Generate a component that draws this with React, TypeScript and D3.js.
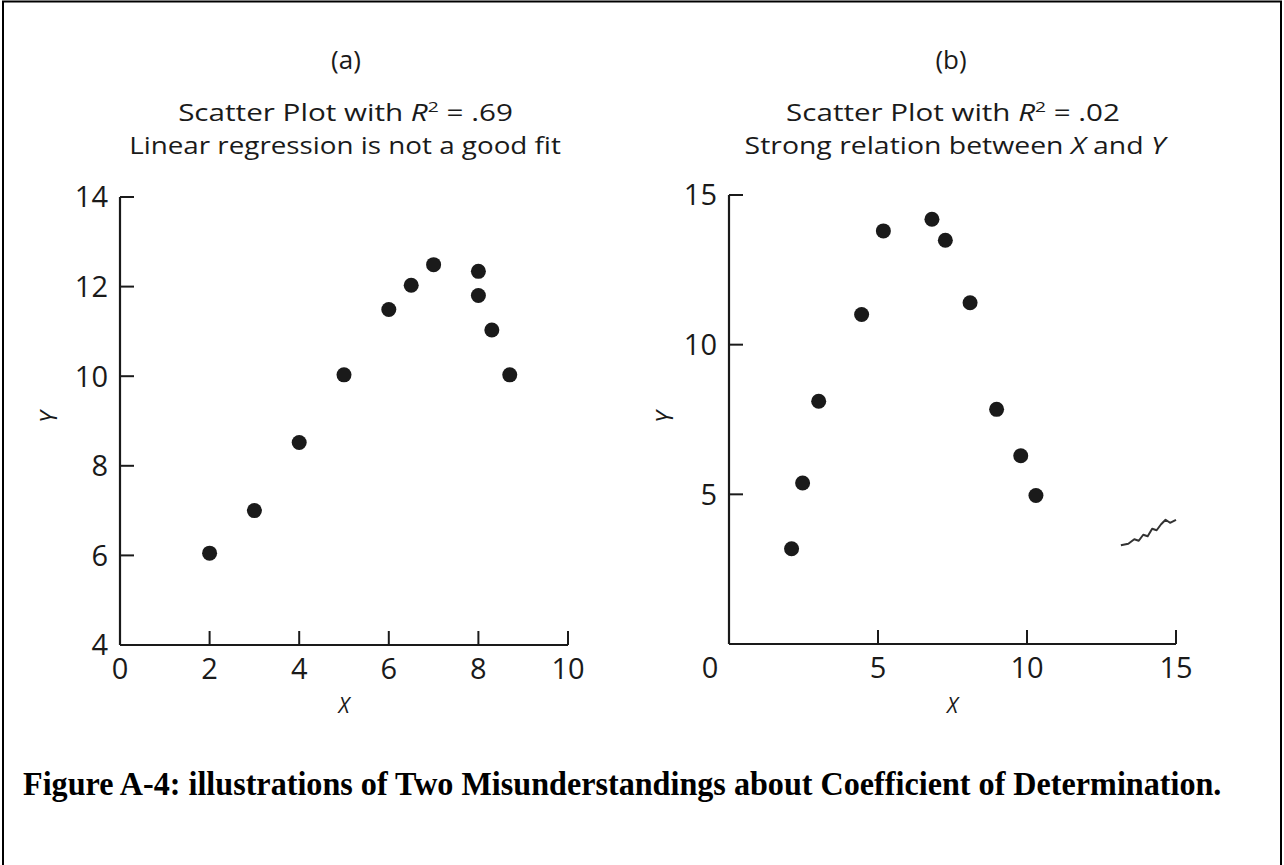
import React, { useLayoutEffect, useRef, useState } from "react";
import * as d3 from "d3";

// ---- Data ----
const panelATitle = ["(a)", "Scatter Plot with ", "Linear regression is not a good fit"];
const panelBTitle = ["(b)", "Scatter Plot with ", "Strong relation between "];
const aX = [2, 3, 4, 5, 6, 6.5, 7, 8, 8, 8.3, 8.7];
const aY = [6.05, 7.0, 8.52, 10.03, 11.49, 12.03, 12.49, 12.34, 11.8, 11.03, 10.03];
const bX = [2.1, 2.47, 3.01, 4.45, 5.18, 6.81, 7.26, 8.09, 8.98, 9.79, 10.3];
const bY = [3.18, 5.38, 8.11, 11.01, 13.8, 14.19, 13.49, 11.4, 7.84, 6.29, 4.96];
const aXTicks = [0, 2, 4, 6, 8, 10];
const aYTicks = [4, 6, 8, 10, 12, 14];
const bXTicks = [0, 5, 10, 15];
const bYTicks = [5, 10, 15];
const scribbleX = [13.15, 13.4, 13.6, 13.75, 13.9, 14.05, 14.2, 14.35, 14.5, 14.65, 14.8, 15.0];
const scribbleY = [3.3, 3.35, 3.5, 3.45, 3.65, 3.6, 3.85, 3.8, 4.0, 4.15, 4.05, 4.15];
const caption = "Figure A-4: illustrations of Two Misunderstandings about Coefficient of Determination.";

const sans = "'Open Sans', 'Noto Sans', sans-serif";
const ink = "#1a1a1a";

// Text horizontally scaled to a target width
function FitText(props: { x: number; y: number; width: number; anchor?: "start" | "middle"; fontFamily: string; fontSize: number; fontWeight?: string; fill: string; children: React.ReactNode }) {
  const ref = useRef<SVGTextElement>(null);
  const [sx, setSx] = useState(1);
  useLayoutEffect(() => {
    if (ref.current) {
      const w = ref.current.getBBox().width;
      if (w > 0) setSx(props.width / w);
    }
  }, [props.width]);
  return (
    <g transform={`translate(${props.x},${props.y}) scale(${sx},1)`}>
      <text ref={ref} x={0} y={0} textAnchor={props.anchor || "middle"} fontFamily={props.fontFamily} fontSize={props.fontSize} fontWeight={props.fontWeight} fill={props.fill}>
        {props.children}
      </text>
    </g>
  );
}

type PanelProps = {
  xs: number[]; ys: number[];
  xDomain: [number, number]; yDomain: [number, number];
  xRange: [number, number]; yRange: [number, number];
  xTicks: number[]; yTicks: number[];
  zeroDx: number; yLabelX: number; cx: number;
  title: string[]; r2: string; line2Tail?: boolean;
  w1: number; w2: number; cx1: number; cx2: number;
  scribble?: boolean;
};

function Panel(p: PanelProps) {
  const x = d3.scaleLinear().domain(p.xDomain).range(p.xRange);
  const y = d3.scaleLinear().domain(p.yDomain).range(p.yRange);
  const x0 = p.xRange[0], y0 = p.yRange[0];
  const tickLen = 14;
  const line = d3.line<number>().x((_, i) => x(scribbleX[i])).y((_, i) => y(scribbleY[i]));
  return (
    <g>
      {/* titles */}
      <text x={p.cx} y={69} textAnchor="middle" fontFamily={sans} fontSize={26} fill={ink}>{p.title[0]}</text>
      <FitText x={p.cx1} y={121} width={p.w1} fontFamily={sans} fontSize={23} fill={ink}>
        {p.title[1]}<tspan fontStyle="italic">R</tspan><tspan fontSize={15} dy={-9}>2</tspan><tspan dy={9}>{" = " + p.r2}</tspan>
      </FitText>
      <FitText x={p.cx2} y={154} width={p.w2} fontFamily={sans} fontSize={23} fill={ink}>
        {p.line2Tail ? (
          <>{p.title[2]}<tspan fontStyle="italic">X</tspan> and <tspan fontStyle="italic">Y</tspan></>
        ) : p.title[2]}
      </FitText>
      {/* axes */}
      <line x1={x0} x2={x0} y1={p.yRange[1]} y2={y0} stroke={ink} strokeWidth={2.2} />
      <line x1={x0} x2={p.xRange[1]} y1={y0} y2={y0} stroke={ink} strokeWidth={2.2} />
      {p.yTicks.map((t) => (
        <g key={"yt" + t}>
          {t !== p.yDomain[0] && <line x1={x0} x2={x0 + tickLen} y1={y(t)} y2={y(t)} stroke={ink} strokeWidth={2} />}
          <text x={x0 - 12} y={y(t)} dy="0.36em" textAnchor="end" fontFamily={sans} fontSize={29} fill={ink}>{t}</text>
        </g>
      ))}
      {p.xTicks.map((t) => (
        <g key={"xt" + t}>
          {t !== p.xDomain[0] && <line x1={x(t)} x2={x(t)} y1={y0} y2={y0 - tickLen} stroke={ink} strokeWidth={2} />}
          <text x={x(t) + (t === 0 ? p.zeroDx : 0)} y={y0 + 34} textAnchor="middle" fontFamily={sans} fontSize={29} fill={ink}>{t}</text>
        </g>
      ))}
      {/* axis labels */}
      <text x={(x0 + p.xRange[1]) / 2} y={713} textAnchor="middle" fontFamily={sans} fontStyle="italic" fontSize={21} fill={ink}>X</text>
      <text transform={`translate(${p.yLabelX},417) rotate(-90)`} textAnchor="middle" fontFamily={sans} fontStyle="italic" fontSize={23} fill={ink}>Y</text>
      {/* points */}
      {p.xs.map((v, i) => (
        <circle key={i} cx={x(v)} cy={y(p.ys[i])} r={7.5} fill={ink} />
      ))}
      {p.scribble && (
        <path d={line(scribbleX) || ""} fill="none" stroke="#333" strokeWidth={2} strokeLinejoin="round" />
      )}
    </g>
  );
}

export default function App() {
  return (
    <svg width={1284} height={865} style={{ position: "fixed", left: 0, top: 0, background: "#fff" }}>
      <rect x={0} y={0} width={1284} height={865} fill="#fff" />
      <path d="M3,900 L3,1.5 L1281,1.5 L1281,900" fill="none" stroke="#000" strokeWidth={2} />
      <Panel xs={aX} ys={aY} xDomain={[0, 10]} yDomain={[4, 14]} xRange={[120, 568]} yRange={[645, 197]}
        xTicks={aXTicks} yTicks={aYTicks} zeroDx={0} yLabelX={57} cx={346} title={panelATitle} r2=".69"
        w1={335} w2={432} cx1={345.5} cx2={345} />
      <Panel xs={bX} ys={bY} xDomain={[0, 15]} yDomain={[0, 15]} xRange={[729, 1176]} yRange={[644, 195]}
        xTicks={bXTicks} yTicks={bYTicks} zeroDx={-19} yLabelX={673} cx={951} title={panelBTitle} r2=".02" line2Tail
        w1={334} w2={424} cx1={953} cx2={955} scribble />
      <FitText x={23} y={795} width={1199} anchor="start" fontFamily="'Liberation Serif', 'Times New Roman', serif" fontWeight="bold" fontSize={34} fill="#000">{caption}</FitText>
    </svg>
  );
}
